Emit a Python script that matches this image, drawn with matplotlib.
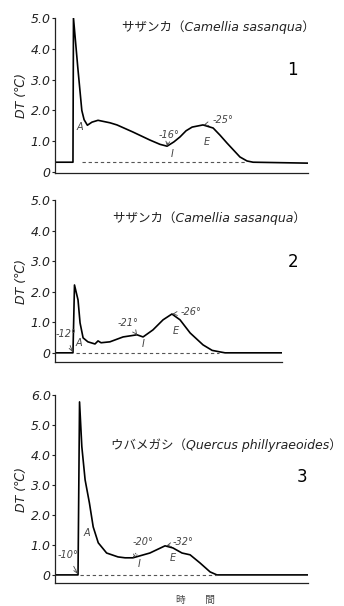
import matplotlib.pyplot as plt

plt.rcParams['font.family'] = ['DejaVu Sans', 'Noto Sans CJK JP']

W, H = 344, 606
ink = '#222222'

# panel 1 : サザンカ
t1 = [0.0, 7.1, 7.3, 9.0, 10.6, 11.5, 12.8, 14.6, 17.0, 21.7, 24.5, 30.8, 37.5, 41.5,
      44.3, 47.0, 49.4, 51.8, 54.2, 58.5, 62.5, 65.2, 68.0, 73.1, 75.9, 78.3, 100.0]
dt1 = [0.32, 0.32, 5.0, 3.4, 2.0, 1.7, 1.52, 1.62, 1.68, 1.60, 1.53, 1.30, 1.04, 0.90,
       0.84, 0.98, 1.14, 1.34, 1.46, 1.53, 1.43, 1.20, 0.94, 0.49, 0.36, 0.32, 0.29]
base1 = 0.32

# panel 2 : サザンカ
t2 = [0.0, 7.1, 7.7, 9.1, 9.9, 11.1, 13.0, 15.8, 17.0, 18.2, 21.7, 26.9, 32.4, 34.8,
      38.7, 42.7, 46.2, 49.4, 53.4, 58.5, 62.1, 65.2, 67.2, 89.7]
dt2 = [0, 0, 2.22, 1.73, 0.98, 0.49, 0.36, 0.29, 0.39, 0.33, 0.36, 0.52, 0.59, 0.52,
       0.75, 1.08, 1.27, 1.08, 0.65, 0.26, 0.08, 0.03, 0, 0]

# panel 3 : ウバメガシ
t3 = [0.0, 9.1, 9.7, 10.6, 11.9, 13.6, 15.1, 17.1, 20.4, 24.9, 27.7, 30.8, 37.5, 43.5,
      46.6, 50.2, 53.4, 57.3, 61.3, 64.0, 100.0]
dt3 = [0, 0, 5.77, 4.28, 3.17, 2.4, 1.6, 1.07, 0.73, 0.6, 0.57, 0.57, 0.73, 0.97,
       0.9, 0.73, 0.67, 0.4, 0.1, 0, 0]

titles = ['サザンカ（Camellia sasanqua）', 'サザンカ（Camellia sasanqua）',
          'ウバメガシ（Quercus phillyraeoides）']
numbers = ['1', '2', '3']


def axes_px(fig, left, top, right, bottom):
    return fig.add_axes([left / W, 1 - bottom / H, (right - left) / W, (bottom - top) / H])


def style(ax, yticks, ylim, xlim):
    ax.set_ylim(*ylim)
    ax.set_xlim(*xlim)
    ax.set_yticks(yticks)
    ax.set_yticklabels(['0' if v == 0 else f'{v:.1f}' for v in yticks],
                       fontsize=9, style='italic', color=ink)
    ax.set_xticks([])
    for s in ['top', 'right']:
        ax.spines[s].set_visible(False)
    for s in ['left', 'bottom']:
        ax.spines[s].set_linewidth(0.9)
        ax.spines[s].set_color(ink)
    ax.tick_params(axis='y', length=2, width=0.8, pad=1, color=ink)
    ax.set_ylabel('DT (℃)', fontsize=9, style='italic', color=ink, labelpad=2)
    ax.patch.set_alpha(0)


def note(ax, s, xy, xytext, arrow=True, ls='-'):
    if arrow:
        ax.annotate(s, xy=xy, xytext=xytext, fontsize=7, style='italic', color='#444444',
                    ha='center', va='center',
                    arrowprops=dict(arrowstyle='->', lw=0.6, color='#444444', ls=ls,
                                    shrinkA=3, shrinkB=0))
    else:
        ax.text(xytext[0], xytext[1], s, fontsize=7, style='italic', color='#444444',
                ha='center', va='center')


fig = plt.figure(figsize=(W / 100, H / 100), dpi=100)

# ---- panel 1
ax1 = axes_px(fig, 55, 18, 308, 173)
ax1.plot(t1, dt1, color='black', lw=1.2)
ax1.plot([10.7, 75.0], [base1, base1], '--', color='#555555', lw=0.8, dashes=(3, 2.5))
style(ax1, [0, 1, 2, 3, 4, 5], (-0.03, 5.0), (0, 100))
note(ax1, 'A', None, (9.9, 1.45), arrow=False)
note(ax1, '-16°', (44.3, 0.84), (45.0, 1.2))
note(ax1, 'I', None, (46.2, 0.6), arrow=False)
note(ax1, 'E', None, (60.1, 0.97), arrow=False)
note(ax1, '-25°', (58.8, 1.53), (66.4, 1.68))

# ---- panel 2
ax2 = axes_px(fig, 55, 200, 282, 362)
ax2.plot(t2, dt2, color='black', lw=1.2)
ax2.plot([8.3, 65.0], [0, 0], '--', color='#555555', lw=0.8, dashes=(3, 2.5))
style(ax2, [0, 1, 2, 3, 4, 5], (-0.3, 5.0), (0, 89.7))
note(ax2, '-12°', (7.0, 0.02), (4.2, 0.62))
note(ax2, 'A', None, (9.6, 0.33), arrow=False)
note(ax2, '-21°', (32.4, 0.59), (29.0, 0.98))
note(ax2, 'I', None, (34.8, 0.3), arrow=False)
note(ax2, 'E', None, (47.8, 0.72), arrow=False)
note(ax2, '-26°', (46.4, 1.27), (53.6, 1.33))

# ---- panel 3
ax3 = axes_px(fig, 55, 395, 308, 583)
ax3.plot(t3, dt3, color='black', lw=1.2)
ax3.plot([10.0, 64.0], [0, 0], '--', color='#555555', lw=0.8, dashes=(3, 2.5))
style(ax3, [0, 1, 2, 3, 4, 5, 6], (-0.27, 6.0), (0, 100))
note(ax3, '-10°', (9.0, 0.03), (5.0, 0.67))
note(ax3, 'A', None, (12.6, 1.4), arrow=False)
note(ax3, '-20°', (30.8, 0.57), (34.8, 1.1), ls=':')
note(ax3, 'I', None, (33.2, 0.38), arrow=False)
note(ax3, 'E', None, (46.6, 0.57), arrow=False)
note(ax3, '-32°', (44.0, 0.97), (50.6, 1.1))

# titles and panel numbers
for (x, y), s in zip([(218, 27), (209, 218), (226, 445)], titles):
    fig.text(x / W, 1 - y / H, s, fontsize=9, style='italic', color=ink,
             ha='center', va='center')
for (x, y), s in zip([(292, 70), (293, 262), (302, 477)], numbers):
    fig.text(x / W, 1 - y / H, s, fontsize=12, color='black', ha='center', va='center')

fig.text(195 / W, 1 - 600 / H, '時　　間', fontsize=7, color='#444444',
         ha='center', va='center', family=['Noto Sans CJK JP'])

fig.savefig('out.png', dpi=100)
